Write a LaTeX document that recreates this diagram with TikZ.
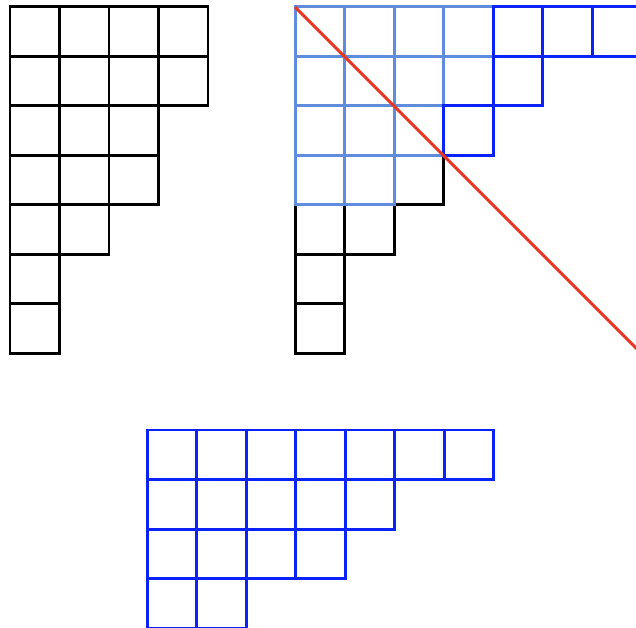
\documentclass[tikz,border=0pt]{standalone}
\definecolor{dkblue}{RGB}{10,35,250}
\definecolor{ltblue}{RGB}{95,140,220}
\definecolor{diagred}{RGB}{232,55,35}
\tikzset{cellline/.style={line width=0.06cm, line cap=rect, line join=miter}}
\begin{document}
\begin{tikzpicture}
\useasboundingbox (0,0) rectangle (12.848,-12.667);
\clip (0,0) rectangle (12.848,-12.667);
% left diagram
\begin{scope}[shift={(0.202,-0.141)}]
\foreach \r/\n in {0/4,1/4,2/3,3/3,4/2,5/1,6/1}
  \foreach \c in {1,...,\n}
    \draw[cellline, black] (\c-1,-\r) rectangle ++(1,-1);
\end{scope}
% right diagram
\begin{scope}[shift={(5.96,-0.141)}]
\foreach \r/\n in {0/4,1/4,2/3,3/3,4/2,5/1,6/1}
  \foreach \c in {1,...,\n}
    \draw[cellline, black] (\c-1,-\r) rectangle ++(1,-1);
\foreach \r/\n in {0/4,1/4,2/3,3/2}
  \foreach \c in {1,...,\n}
    \draw[cellline, ltblue] (\c-1,-\r) rectangle ++(1,-1);
\foreach \r/\a/\b in {0/5/7,1/5/5,2/4/4}
  \foreach \c in {\a,...,\b}
    \draw[cellline, dkblue] (\c-1,-\r) rectangle ++(1,-1);
\coordinate (dstart) at (0,0);
\coordinate (dend) at (8,-8);
\draw[line width=0.06cm, diagred] (dstart) -- (dend);
\end{scope}
% bottom diagram
\begin{scope}[shift={(2.97,-8.687)}]
\foreach \r/\n in {0/7,1/5,2/4,3/2}
  \foreach \c in {1,...,\n}
    \draw[cellline, dkblue] (\c-1,-\r) rectangle ++(1,-1);
\end{scope}
\end{tikzpicture}
\end{document}
